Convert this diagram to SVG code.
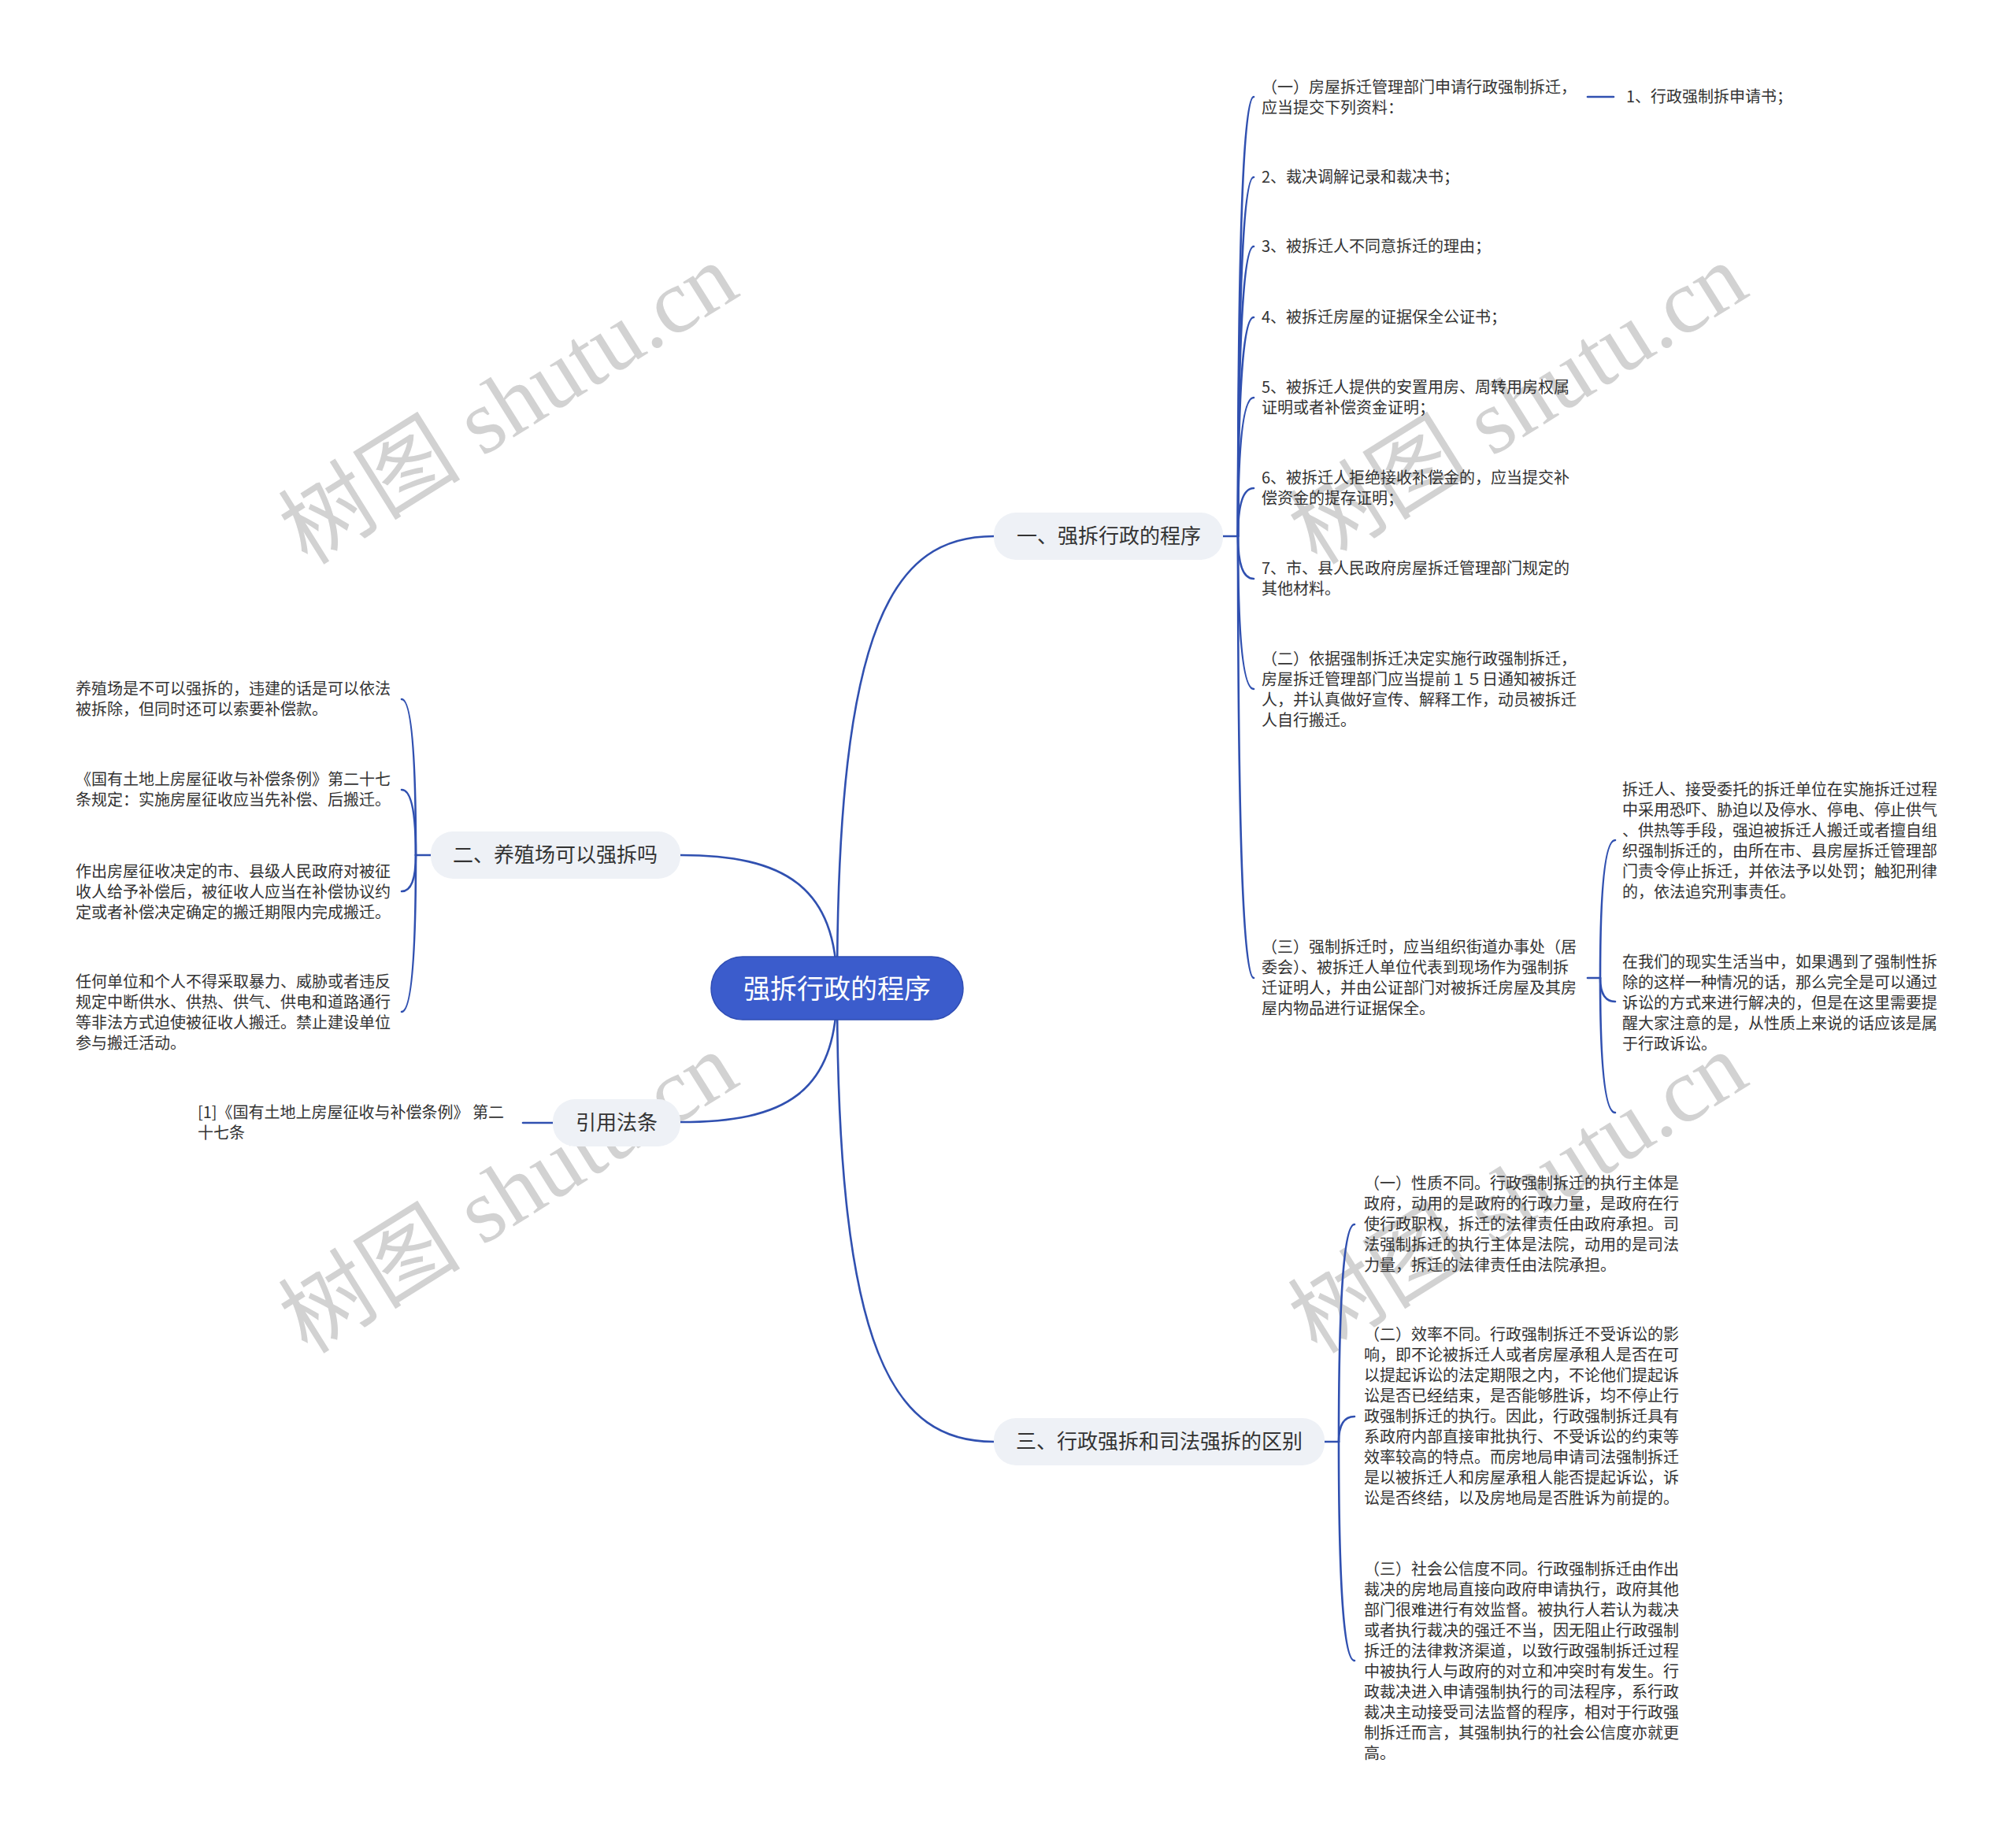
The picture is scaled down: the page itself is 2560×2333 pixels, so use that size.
<svg xmlns="http://www.w3.org/2000/svg" width="2560" height="2333" viewBox="0 0 2560 2333">
<style>
text { font-family: "Noto Sans CJK SC", "Noto Sans", sans-serif; }
.wm { font-family: "Liberation Serif", "Noto Sans CJK SC", serif; font-size: 116px; fill: #d2d2d2; text-anchor: middle; }
.ln { fill: none; stroke: #3050b0; stroke-width: 2.6; stroke-linecap: round; }
.leaf { font-size: 20px; fill: #333333; }
.topic rect { fill: #eef1f6; }
.topic text { font-size: 26px; fill: #333333; text-anchor: middle; }
.root rect { fill: #3b5ccc; stroke: #2f4db3; stroke-width: 1.5; }
.root text { font-size: 34px; fill: #ffffff; text-anchor: middle; }
</style>
<rect x="0" y="0" width="2560" height="2333" fill="#ffffff"/>
<g id="watermarks">
<text class="wm" transform="translate(645,512) rotate(-32)" dy="0.35em">树图 shutu.cn</text>
<text class="wm" transform="translate(1927,512) rotate(-32)" dy="0.35em">树图 shutu.cn</text>
<text class="wm" transform="translate(645,1514) rotate(-32)" dy="0.35em">树图 shutu.cn</text>
<text class="wm" transform="translate(1927,1514) rotate(-32)" dy="0.35em">树图 shutu.cn</text>
</g>
<g id="connectors">
<path class="ln" d="M1063,1255 C1063,790 1135,681 1262,681"/>
<path class="ln" d="M1063,1255 C1063,1720 1135,1831 1262,1831"/>
<path class="ln" d="M1063,1255 C1063,1125 995,1086 864,1086"/>
<path class="ln" d="M1063,1255 C1063,1390 995,1425 864,1425"/>
<path class="ln" d="M1553,681 L1572,681"/>
<path class="ln" d="M1572,681 Q1572,123 1592,123"/>
<path class="ln" d="M1572,681 Q1572,225 1592,225"/>
<path class="ln" d="M1572,681 Q1572,313 1592,313"/>
<path class="ln" d="M1572,681 Q1572,403 1592,403"/>
<path class="ln" d="M1572,681 Q1572,505 1592,505"/>
<path class="ln" d="M1572,681 Q1572,620 1592,620"/>
<path class="ln" d="M1572,681 Q1572,735 1592,735"/>
<path class="ln" d="M1572,681 Q1572,875 1592,875"/>
<path class="ln" d="M1572,681 Q1572,1242 1592,1242"/>
<path class="ln" d="M2016,123 L2049,123"/>
<path class="ln" d="M2016,1242 L2032,1242"/>
<path class="ln" d="M2032,1242 Q2032,1067 2051,1067"/>
<path class="ln" d="M2032,1242 Q2032,1272 2051,1272"/>
<path class="ln" d="M2032,1242 Q2032,1413 2051,1413"/>
<path class="ln" d="M547,1086 L528,1086"/>
<path class="ln" d="M528,1086 Q528,888 510,888"/>
<path class="ln" d="M528,1086 Q528,1003 510,1003"/>
<path class="ln" d="M528,1086 Q528,1132 510,1132"/>
<path class="ln" d="M528,1086 Q528,1285 510,1285"/>
<path class="ln" d="M702,1426 L664,1426"/>
<path class="ln" d="M1682,1831 L1700,1831"/>
<path class="ln" d="M1700,1831 Q1700,1555 1720,1555"/>
<path class="ln" d="M1700,1831 Q1700,1799 1720,1799"/>
<path class="ln" d="M1700,1831 Q1700,2109 1720,2109"/>
</g>
<g id="root" class="root">
<rect x="903" y="1215" width="320" height="80" rx="40"/>
<text x="1063" y="1268">强拆行政的程序</text>
</g>
<g id="b1" class="topic">
<rect x="1262" y="651" width="291" height="60" rx="28"/>
<text x="1408" y="690">一、强拆行政的程序</text>
</g>
<g id="b2" class="topic">
<rect x="547" y="1056" width="317" height="60" rx="28"/>
<text x="705" y="1095">二、养殖场可以强拆吗</text>
</g>
<g id="b3" class="topic">
<rect x="702" y="1396" width="162" height="60" rx="28"/>
<text x="783" y="1435">引用法条</text>
</g>
<g id="b4" class="topic">
<rect x="1262" y="1801" width="420" height="60" rx="28"/>
<text x="1472" y="1840">三、行政强拆和司法强拆的区别</text>
</g>
<g id="b1c1"><text class="leaf"><tspan x="1602" y="118">（一）房屋拆迁管理部门申请行政强制拆迁，</tspan><tspan x="1602" y="144">应当提交下列资料：</tspan></text></g>
<g id="b1c1a"><text class="leaf" x="2065" y="130">1、行政强制拆申请书；</text></g>
<g id="b1c2"><text class="leaf" x="1602" y="232">2、裁决调解记录和裁决书；</text></g>
<g id="b1c3"><text class="leaf" x="1602" y="320">3、被拆迁人不同意拆迁的理由；</text></g>
<g id="b1c4"><text class="leaf" x="1602" y="410">4、被拆迁房屋的证据保全公证书；</text></g>
<g id="b1c5"><text class="leaf"><tspan x="1602" y="499">5、被拆迁人提供的安置用房、周转用房权属</tspan><tspan x="1602" y="525">证明或者补偿资金证明；</tspan></text></g>
<g id="b1c6"><text class="leaf"><tspan x="1602" y="614">6、被拆迁人拒绝接收补偿金的，应当提交补</tspan><tspan x="1602" y="640">偿资金的提存证明；</tspan></text></g>
<g id="b1c7"><text class="leaf"><tspan x="1602" y="729">7、市、县人民政府房屋拆迁管理部门规定的</tspan><tspan x="1602" y="755">其他材料。</tspan></text></g>
<g id="b1c8"><text class="leaf"><tspan x="1602" y="844">（二）依据强制拆迁决定实施行政强制拆迁，</tspan><tspan x="1602" y="870">房屋拆迁管理部门应当提前１５日通知被拆迁</tspan><tspan x="1602" y="896">人，并认真做好宣传、解释工作，动员被拆迁</tspan><tspan x="1602" y="922">人自行搬迁。</tspan></text></g>
<g id="b1c9"><text class="leaf"><tspan x="1602" y="1210">（三）强制拆迁时，应当组织街道办事处（居</tspan><tspan x="1602" y="1236">委会）、被拆迁人单位代表到现场作为强制拆</tspan><tspan x="1602" y="1262">迁证明人，并由公证部门对被拆迁房屋及其房</tspan><tspan x="1602" y="1288">屋内物品进行证据保全。</tspan></text></g>
<g id="b1c9a"><text class="leaf"><tspan x="2060" y="1010">拆迁人、接受委托的拆迁单位在实施拆迁过程</tspan><tspan x="2060" y="1036">中采用恐吓、胁迫以及停水、停电、停止供气</tspan><tspan x="2060" y="1062">、供热等手段，强迫被拆迁人搬迁或者擅自组</tspan><tspan x="2060" y="1088">织强制拆迁的，由所在市、县房屋拆迁管理部</tspan><tspan x="2060" y="1114">门责令停止拆迁，并依法予以处罚；触犯刑律</tspan><tspan x="2060" y="1140">的，依法追究刑事责任。</tspan></text></g>
<g id="b1c9b"><text class="leaf"><tspan x="2060" y="1229">在我们的现实生活当中，如果遇到了强制性拆</tspan><tspan x="2060" y="1255">除的这样一种情况的话，那么完全是可以通过</tspan><tspan x="2060" y="1281">诉讼的方式来进行解决的，但是在这里需要提</tspan><tspan x="2060" y="1307">醒大家注意的是，从性质上来说的话应该是属</tspan><tspan x="2060" y="1333">于行政诉讼。</tspan></text></g>
<g id="b2c1"><text class="leaf"><tspan x="96" y="882">养殖场是不可以强拆的，违建的话是可以依法</tspan><tspan x="96" y="908">被拆除，但同时还可以索要补偿款。</tspan></text></g>
<g id="b2c2"><text class="leaf"><tspan x="96" y="997">《国有土地上房屋征收与补偿条例》第二十七</tspan><tspan x="96" y="1023">条规定：实施房屋征收应当先补偿、后搬迁。</tspan></text></g>
<g id="b2c3"><text class="leaf"><tspan x="96" y="1114">作出房屋征收决定的市、县级人民政府对被征</tspan><tspan x="96" y="1140">收人给予补偿后，被征收人应当在补偿协议约</tspan><tspan x="96" y="1166">定或者补偿决定确定的搬迁期限内完成搬迁。</tspan></text></g>
<g id="b2c4"><text class="leaf"><tspan x="96" y="1254">任何单位和个人不得采取暴力、威胁或者违反</tspan><tspan x="96" y="1280">规定中断供水、供热、供气、供电和道路通行</tspan><tspan x="96" y="1306">等非法方式迫使被征收人搬迁。禁止建设单位</tspan><tspan x="96" y="1332">参与搬迁活动。</tspan></text></g>
<g id="b3c1"><text class="leaf"><tspan x="251" y="1420">[1]《国有土地上房屋征收与补偿条例》 第二</tspan><tspan x="251" y="1446">十七条</tspan></text></g>
<g id="b4c1"><text class="leaf"><tspan x="1732" y="1510">（一）性质不同。行政强制拆迁的执行主体是</tspan><tspan x="1732" y="1536">政府，动用的是政府的行政力量，是政府在行</tspan><tspan x="1732" y="1562">使行政职权，拆迁的法律责任由政府承担。司</tspan><tspan x="1732" y="1588">法强制拆迁的执行主体是法院，动用的是司法</tspan><tspan x="1732" y="1614">力量，拆迁的法律责任由法院承担。</tspan></text></g>
<g id="b4c2"><text class="leaf"><tspan x="1732" y="1702">（二）效率不同。行政强制拆迁不受诉讼的影</tspan><tspan x="1732" y="1728">响，即不论被拆迁人或者房屋承租人是否在可</tspan><tspan x="1732" y="1754">以提起诉讼的法定期限之内，不论他们提起诉</tspan><tspan x="1732" y="1780">讼是否已经结束，是否能够胜诉，均不停止行</tspan><tspan x="1732" y="1806">政强制拆迁的执行。因此，行政强制拆迁具有</tspan><tspan x="1732" y="1832">系政府内部直接审批执行、不受诉讼的约束等</tspan><tspan x="1732" y="1858">效率较高的特点。而房地局申请司法强制拆迁</tspan><tspan x="1732" y="1884">是以被拆迁人和房屋承租人能否提起诉讼，诉</tspan><tspan x="1732" y="1910">讼是否终结，以及房地局是否胜诉为前提的。</tspan></text></g>
<g id="b4c3"><text class="leaf"><tspan x="1732" y="2000">（三）社会公信度不同。行政强制拆迁由作出</tspan><tspan x="1732" y="2026">裁决的房地局直接向政府申请执行，政府其他</tspan><tspan x="1732" y="2052">部门很难进行有效监督。被执行人若认为裁决</tspan><tspan x="1732" y="2078">或者执行裁决的强迁不当，因无阻止行政强制</tspan><tspan x="1732" y="2104">拆迁的法律救济渠道，以致行政强制拆迁过程</tspan><tspan x="1732" y="2130">中被执行人与政府的对立和冲突时有发生。行</tspan><tspan x="1732" y="2156">政裁决进入申请强制执行的司法程序，系行政</tspan><tspan x="1732" y="2182">裁决主动接受司法监督的程序，相对于行政强</tspan><tspan x="1732" y="2208">制拆迁而言，其强制执行的社会公信度亦就更</tspan><tspan x="1732" y="2234">高。</tspan></text></g>
</svg>
